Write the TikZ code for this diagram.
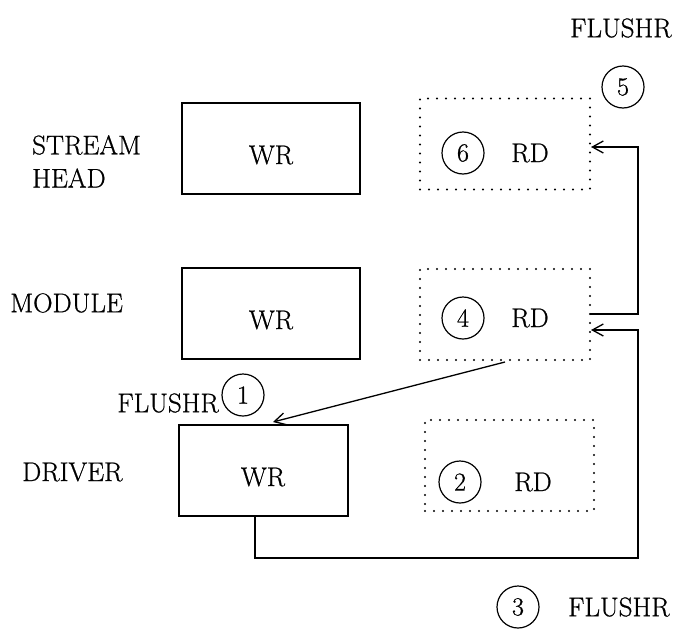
\documentclass[tikz,border=0pt]{standalone}
\usepackage{fontspec}
\setmainfont{Latin Modern Roman}[FakeBold=0.7]
\usetikzlibrary{arrows.meta}
\begin{document}
\begin{tikzpicture}[x=1pt,y=-1pt,
  txt/.style={font=\fontsize{27}{32}\selectfont, inner sep=0pt},
  solidbox/.style={draw, line width=1.3pt, minimum width=#1, minimum height=91pt, inner sep=0pt},
  dotbox/.style={draw, line width=2.3pt, line cap=round, dash pattern=on 0pt off 9pt, minimum width=#1, minimum height=91pt, inner sep=0pt},
  num/.style={draw, circle, line width=1.2pt, minimum size=42pt, inner sep=0pt, font=\fontsize{26}{30}\selectfont},
  conn/.style={line width=1.3pt},
  arr/.style={conn, -{Straight Barb[length=11pt, width=12pt, line width=1.3pt]}}
]
\useasboundingbox (0,0) rectangle (680,640);
% boxes
\node[solidbox=178pt] (shwr) at (271,148.5) {};
\node[solidbox=178pt] (modwr) at (271,313.5) {};
\node[solidbox=169pt] (drvwr) at (263.5,470.5) {};
\node[dotbox=170pt] (rd6) at (505,144) {};
\node[dotbox=170pt] (rd4) at (505,314.5) {};
\node[dotbox=169pt] (rd2) at (509.5,465.5) {};
% box labels
\node[txt] (t1) at (271,155) {WR};
\node[txt] (t2) at (271,320) {WR};
\node[txt] (t3) at (263,477) {WR};
\node[txt] (t4) at (530,153) {RD};
\node[txt] (t5) at (530,318) {RD};
\node[txt] (t6) at (533,482) {RD};
% circles
\node[num] (c6) at (463,153) {6};
\node[num] (c4) at (463,318) {4};
\node[num] (c2) at (460,482) {2};
\node[num] (c5) at (623,87) {5};
\node[num] (c1) at (243,395) {1};
\node[num] (c3) at (518,607) {3};
% side labels
\node[txt, anchor=west] (l1) at (32,145) {STREAM};
\node[txt, anchor=west] (l2) at (32,178) {HEAD};
\node[txt, anchor=west] (l3) at (10,303) {MODULE};
\node[txt, anchor=west] (l4) at (22,472) {DRIVER};
\node[txt, anchor=west] (f1) at (570,28) {FLUSHR};
\node[txt, anchor=east] (f2) at (219,403) {FLUSHR};
\node[txt, anchor=west] (f3) at (568,607) {FLUSHR};
% connector anchors
\coordinate (a1) at (505,362);
\coordinate (a2) at (273,422);
\coordinate (r4out) at (590,314);
\coordinate (r6in) at (591,147);
\coordinate (r4in) at (591,330);
\coordinate (wout) at (255,516);
\draw[arr] (a1) -- (a2);
\draw[arr] (r4out) -- (638,314) -- (638,147) -- (r6in);
\draw[arr] (wout) -- (255,558) -- (638,558) -- (638,330) -- (r4in);
\end{tikzpicture}
\end{document}
